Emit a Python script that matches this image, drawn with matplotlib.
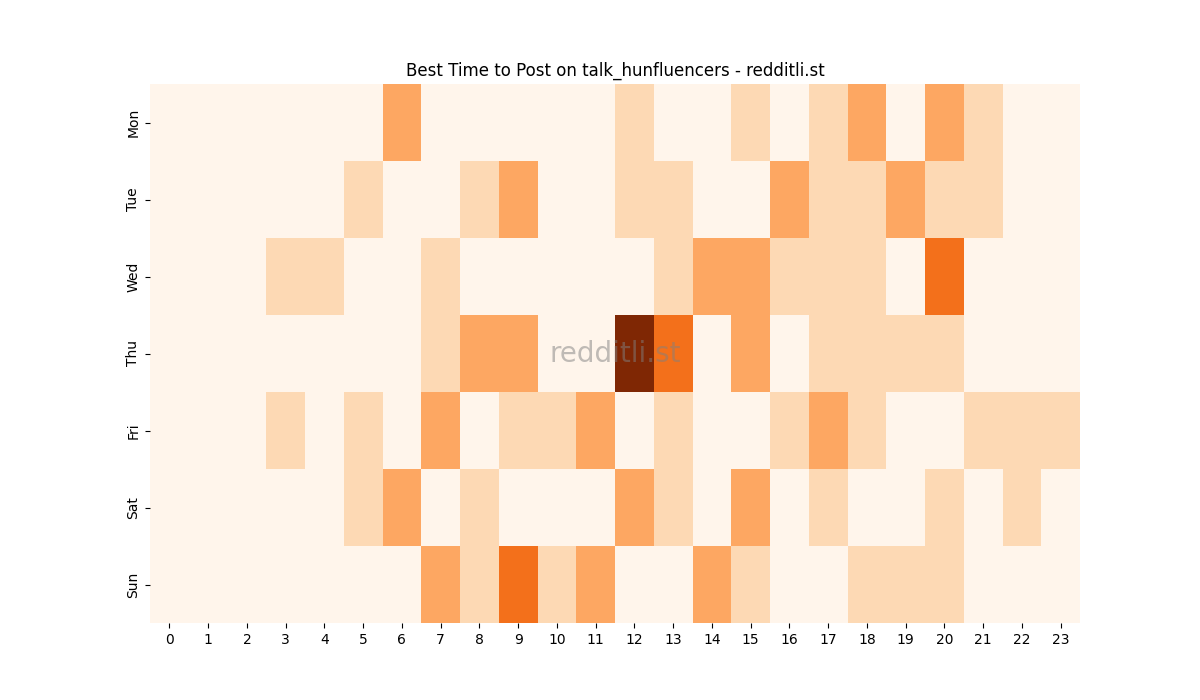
import numpy as np
import matplotlib
matplotlib.use("Agg")
import matplotlib.pyplot as plt
import seaborn as sns

days = ["Mon", "Tue", "Wed", "Thu", "Fri", "Sat", "Sun"]
hours = list(range(24))

# post counts per weekday / hour
mon = [0, 0, 0, 0, 0, 0, 2, 0, 0, 0, 0, 0, 1, 0, 0, 1, 0, 1, 2, 0, 2, 1, 0, 0]
tue = [0, 0, 0, 0, 0, 1, 0, 0, 1, 2, 0, 0, 1, 1, 0, 0, 2, 1, 1, 2, 1, 1, 0, 0]
wed = [0, 0, 0, 1, 1, 0, 0, 1, 0, 0, 0, 0, 0, 1, 2, 2, 1, 1, 1, 0, 3, 0, 0, 0]
thu = [0, 0, 0, 0, 0, 0, 0, 1, 2, 2, 0, 0, 5, 3, 0, 2, 0, 1, 1, 1, 1, 0, 0, 0]
fri = [0, 0, 0, 1, 0, 1, 0, 2, 0, 1, 1, 2, 0, 1, 0, 0, 1, 2, 1, 0, 0, 1, 1, 1]
sat = [0, 0, 0, 0, 0, 1, 2, 0, 1, 0, 0, 0, 2, 1, 0, 2, 0, 1, 0, 0, 1, 0, 1, 0]
sun = [0, 0, 0, 0, 0, 0, 0, 2, 1, 3, 1, 2, 0, 0, 2, 1, 0, 0, 1, 1, 1, 0, 0, 0]

data = np.array([mon, tue, wed, thu, fri, sat, sun])

fig, ax = plt.subplots(figsize=(12, 7), dpi=100)
sns.heatmap(data, cmap="Oranges", cbar=False, xticklabels=hours,
            yticklabels=days, ax=ax)
ax.set_title("Best Time to Post on talk_hunfluencers - redditli.st")
ax.text(0.5, 0.5, "redditli.st", transform=ax.transAxes, fontsize=20,
        color="gray", alpha=0.5, ha="center", va="center")

fig.savefig("out.png")
